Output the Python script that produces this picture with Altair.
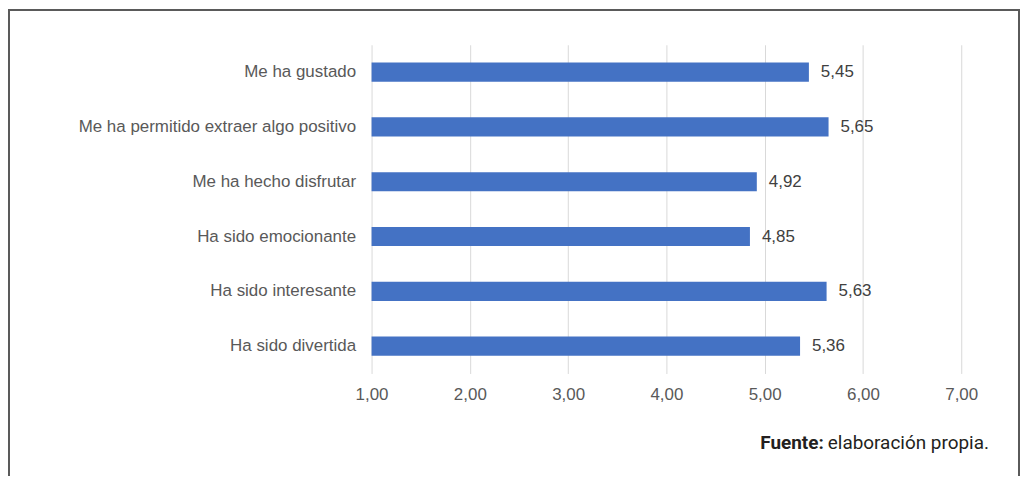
import altair as alt
import pandas as pd

categories = [
    "Me ha gustado",
    "Me ha permitido extraer algo positivo",
    "Me ha hecho disfrutar",
    "Ha sido emocionante",
    "Ha sido interesante",
    "Ha sido divertida",
]
values = [5.45, 5.65, 4.92, 4.85, 5.63, 5.36]
x_ticks = [1, 2, 3, 4, 5, 6, 7]
source_bold = "Fuente:"
source_text = "elaboración propia."

df = pd.DataFrame({"categoria": categories, "valor": values})

FONT = "Liberation Sans"
FS = 17

x_enc = alt.X(
    "valor:Q",
    scale=alt.Scale(domain=[1, 7], nice=False, zero=False),
    axis=alt.Axis(
        values=x_ticks,
        labelExpr="replace(format(datum.value, '.2f'), '.', ',')",
        title=None,
        domain=False,
        ticks=False,
        grid=True,
        gridColor="#d9d9d9",
        gridWidth=1,
        labelFont=FONT,
        labelFontSize=FS,
        labelColor="#595959",
        labelPadding=13,
        labelFlush=False,
        labelOverlap=False,
    ),
)
y_enc = alt.Y(
    "categoria:N",
    sort=categories,
    scale=alt.Scale(paddingInner=0.65, paddingOuter=0.325),
    axis=alt.Axis(
        title=None,
        domain=False,
        ticks=False,
        labelFont=FONT,
        labelFontSize=FS,
        labelColor="#595959",
        labelPadding=16,
        labelLimit=400,
    ),
)

base = alt.Chart(df)

bars = base.mark_bar(color="#4472C4").encode(
    x=x_enc,
    x2=alt.datum(1),
    y=y_enc,
)

labels = base.mark_text(
    align="left", baseline="middle", dx=12, font=FONT, fontSize=FS, color="#404040"
).transform_calculate(
    etiqueta="replace(format(datum.valor, '.2f'), '.', ',')"
).encode(
    x=alt.X("valor:Q"),
    y=alt.Y("categoria:N", sort=categories),
    text="etiqueta:N",
)

one = alt.Data(values=[{"a": 1}])

frame = alt.Chart(one).mark_rect(
    fill=None, filled=False, stroke="#5a5a5a", strokeWidth=2
).encode(
    x=alt.value(-364),
    x2=alt.value(650),
    y=alt.value(-35),
    y2=alt.value(600),
)

src1 = alt.Chart(one).mark_text(
    align="right", baseline="alphabetic", font="Roboto", fontSize=19,
    fontWeight="bold", color="#231f20"
).encode(x=alt.value(454), y=alt.value(406), text=alt.value(source_bold))

src2 = alt.Chart(one).mark_text(
    align="left", baseline="alphabetic", font="Roboto", fontSize=19,
    color="#231f20"
).encode(x=alt.value(458), y=alt.value(406), text=alt.value(source_text))

chart = alt.layer(bars, labels, frame, src1, src2).properties(
    width=592,
    height=330,
    autosize=alt.AutoSizeParams(type="none"),
    padding={"left": 365, "top": 36, "right": 59, "bottom": 102},
).configure_view(stroke=None)

chart.save("out.html", embed_options={"renderer": "svg", "actions": False})
